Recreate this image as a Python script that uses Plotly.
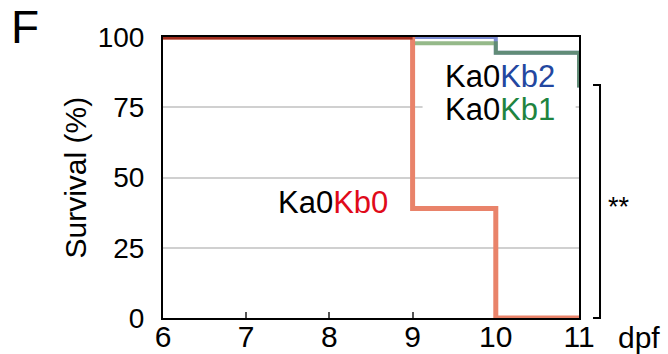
import plotly.graph_objects as go

# Data (step survival curves, % survival by day post fertilization)
days_kb0 = [6, 9, 10, 11]
surv_kb0 = [100, 39, 0, 0]
days_kb1 = [6, 9, 10, 11]
surv_kb1 = [100, 97.8, 94.4, 82]
days_kb2 = [6, 9, 10, 11]
surv_kb2 = [100, 100, 94.4, 82]
x_ticks = [6, 7, 8, 9, 10, 11]
y_ticks = [0, 25, 50, 75, 100]

FONT = "Liberation Sans, Arial, Helvetica, sans-serif"

fig = go.Figure()
fig.add_trace(go.Scatter(x=days_kb2, y=surv_kb2, mode="lines", line_shape="hv",
                         line=dict(color="rgb(125,140,210)", width=4), cliponaxis=False,
                         name="Ka0Kb2"))
fig.add_trace(go.Scatter(x=days_kb1, y=surv_kb1, mode="lines", line_shape="hv",
                         line=dict(color="rgb(80,140,60)", width=4), opacity=0.6,
                         cliponaxis=False, name="Ka0Kb1"))
fig.add_trace(go.Scatter(x=days_kb0, y=surv_kb0, mode="lines", line_shape="hv",
                         line=dict(color="rgb(233,131,106)", width=5), cliponaxis=False,
                         name="Ka0Kb0"))

# shared initial plateau (all groups at 100%) drawn as the overlap colour
def first_drop(days, surv):
    for d, s in zip(days[1:], surv[1:]):
        if s < surv[0]:
            return d
    return days[-1]

plateau_end = min(first_drop(days_kb0, surv_kb0), first_drop(days_kb1, surv_kb1),
                  first_drop(days_kb2, surv_kb2))
fig.add_trace(go.Scatter(x=[days_kb0[0], plateau_end], y=[surv_kb0[0], surv_kb0[0]],
                         mode="lines", line=dict(color="rgb(160,45,30)", width=5),
                         cliponaxis=False, name="overlap"))

fig.update_layout(
    width=668, height=354,
    margin=dict(l=163, r=89, t=37, b=36, autoexpand=False),
    paper_bgcolor="white", plot_bgcolor="white",
    showlegend=False,
    font=dict(family=FONT, color="black"),
)
fig.update_xaxes(range=[6, 11], tickvals=x_ticks, ticktext=[str(v) for v in x_ticks],
                 showgrid=False, zeroline=False, automargin=False,
                 showline=True, linecolor="black", linewidth=2, mirror=True,
                 ticks="inside", ticklen=6, tickwidth=2, tickcolor="#555555",
                 ticklabelstandoff=-9,
                 tickfont=dict(size=30, family=FONT, color="black"),
                 layer="below traces")
fig.update_yaxes(range=[0, 100], tickvals=y_ticks, ticktext=[str(v) for v in y_ticks],
                 showgrid=True, gridcolor="#d0d0d0", gridwidth=2, zeroline=False,
                 automargin=False,
                 showline=True, linecolor="black", linewidth=2, mirror=True,
                 ticks="", ticklabelstandoff=11,
                 tickfont=dict(size=28, family=FONT, color="black"),
                 layer="below traces")

ann = [
    dict(text="F", xref="paper", yref="paper", x=-0.37, y=1.035, xanchor="left",
         yanchor="middle", showarrow=False, font=dict(size=46, family=FONT, color="black")),
    dict(text="Survival (%)", xref="paper", yref="paper", x=-0.2115, y=0.5,
         xanchor="center", yanchor="middle", textangle=-90, showarrow=False,
         font=dict(size=30, family=FONT, color="black")),
    dict(text="dpf", xref="paper", yref="paper", x=1.145, y=-0.07, xanchor="center",
         yanchor="middle", showarrow=False, font=dict(size=30, family=FONT, color="black")),
    dict(text="**", xref="paper", yref="paper", x=1.066, y=0.395, xanchor="left",
         yanchor="middle", showarrow=False, font=dict(size=27, family=FONT, color="black")),
    dict(text="Ka0<span style='color:#2347a0'>Kb2</span>", x=10.05, y=86,
         xanchor="center", yanchor="middle", showarrow=False,
         font=dict(size=31, family=FONT, color="black")),
    dict(text="Ka0<span style='color:#1e8440'>Kb1</span>", x=10.05, y=74.2,
         xanchor="center", yanchor="middle", showarrow=False,
         font=dict(size=31, family=FONT, color="black")),
    dict(text="Ka0<span style='color:#e00a1a'>Kb0</span>", x=8.04, y=41,
         xanchor="center", yanchor="middle", showarrow=False,
         font=dict(size=31, family=FONT, color="black")),
]
fig.update_layout(annotations=ann)

# white patch masking the 75% gridline behind the labels
fig.add_shape(type="rect", xref="x", yref="y", x0=9.12, x1=10.96, y0=72, y1=78,
              fillcolor="white", line=dict(width=0), layer="between")

# significance bracket
fig.add_shape(type="path", xref="paper", yref="paper",
              path="M 1.0337 0.829 L 1.0505 0.829 L 1.0505 0 L 1.0337 0",
              line=dict(color="black", width=2))

fig.write_html("out.html", config={"displayModeBar": False},
               post_script="document.body.style.margin='0px';")
